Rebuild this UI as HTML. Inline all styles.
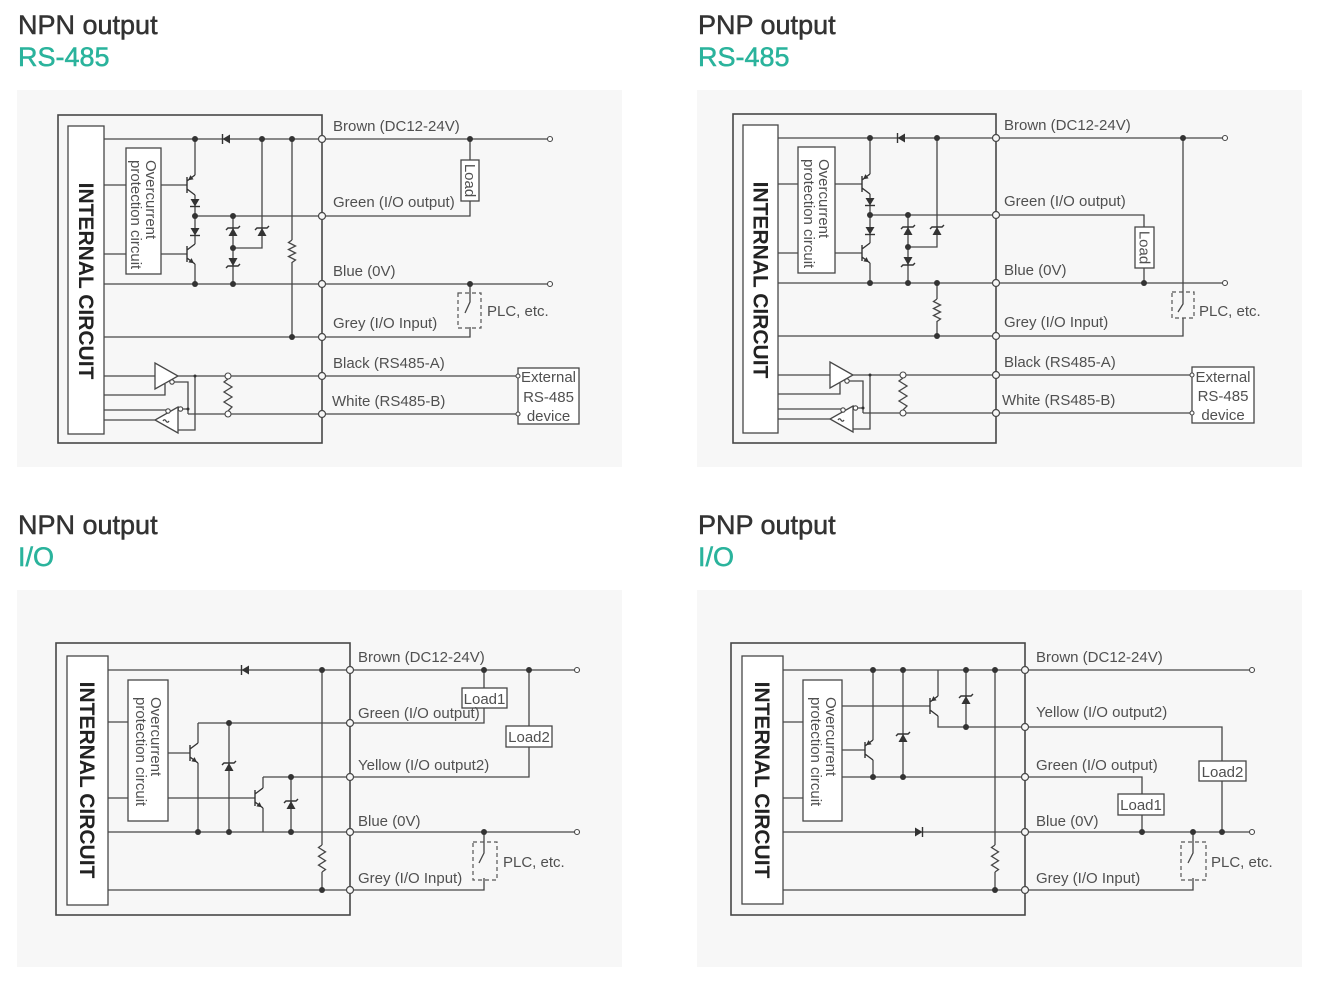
<!DOCTYPE html>
<html><head><meta charset="utf-8">
<style>
html,body{margin:0;padding:0;background:#fff;}
body{width:1318px;height:982px;overflow:hidden;}
svg{display:block;}
svg text{font-family:"Liberation Sans",Arial,sans-serif;}
.w{stroke:#474747;stroke-width:1.3;fill:none;}
.bx{fill:#fff;stroke:#474747;stroke-width:1.3;}
.ob{fill:none;stroke:#474747;stroke-width:1.6;}
.tm{fill:#f7f7f7;stroke:#474747;stroke-width:1.2;}
.ec{fill:#fff;stroke:#474747;stroke-width:1.1;}
.dt{fill:#333;}
.sym{fill:#333;stroke:none;}
.bar{stroke:#333;stroke-width:1.4;fill:none;}
.lb{font-size:15px;fill:#505050;}
.h1{font-size:27px;fill:#333;stroke:#333;stroke-width:0.5;}
.h2{font-size:27px;fill:#2ab39c;stroke:#2ab39c;stroke-width:0.5;}
.ic{font-size:21px;font-weight:bold;fill:#222;}
.oc{font-size:15px;fill:#505050;}
.dash{fill:none;stroke:#555;stroke-width:1.2;stroke-dasharray:4,3;}
</style></head>
<body>
<svg width="1318" height="982" viewBox="0 0 1318 982" xmlns="http://www.w3.org/2000/svg">

<!-- Headings -->
<text class="h1" x="18" y="34">NPN output</text>
<text class="h2" x="18" y="66">RS-485</text>
<text class="h1" x="698" y="34">PNP output</text>
<text class="h2" x="698" y="66">RS-485</text>
<text class="h1" x="18" y="534">NPN output</text>
<text class="h2" x="18" y="566">I/O</text>
<text class="h1" x="698" y="534">PNP output</text>
<text class="h2" x="698" y="566">I/O</text>

<!-- Panel backgrounds -->
<rect x="17" y="90" width="605" height="377" fill="#f7f7f7"/>
<rect x="697" y="90" width="605" height="377" fill="#f7f7f7"/>
<rect x="17" y="590" width="605" height="377" fill="#f7f7f7"/>
<rect x="697" y="590" width="605" height="377" fill="#f7f7f7"/>

<!-- ================= PANEL 1 : NPN RS-485 ================= -->
<g>
<rect class="ob" x="58" y="115" width="264" height="328"/>
<rect class="bx" x="68" y="126" width="36" height="308"/>
<text class="ic" transform="translate(79,281) rotate(90)" text-anchor="middle">INTERNAL CIRCUIT</text>
<rect class="bx" x="126" y="148" width="35" height="126"/>
<text class="oc" transform="translate(146,160) rotate(90)">Overcurrent</text>
<text class="oc" transform="translate(131,160) rotate(90)">protection circuit</text>

<path class="w" d="M104,139 H322 M104,185 H126 M161,185 H187 M104,254 H126 M161,254 H187
M195,139 V175 M195,195 V244 M195,264 V284 M195,216 H322 M233,216 V284 M233,248 H262 V139
M104,284 H322 M104,337 H322 M292,139 V240 M292,262 V337
M104,376 H155 M104,395 H165 V384 M174,382 H188 V414 M183,409 H188 M188,414 H322
M178,376 H322 M195,376 V430 H178 M155,420 H104 M104,410 H166
M228,376 V379 M228,411 V414"/>
<g transform="translate(187,185)"><path class="bar" d="M0,-8 V8 M0,-4 L8,-10 M0,4 L8,10"/><polygon class="sym" points="1,-4.75 6.56,-5.67 3.44,-9.83"/></g>
<g transform="translate(187,254)"><path class="bar" d="M0,-8 V8 M0,-4 L8,-10 M0,4 L8,10"/><polygon class="sym" points="7,9.25 1.44,8.33 4.56,4.17"/></g>
<g transform="translate(226,139) rotate(90)"><polygon class="sym" points="-4.5,-4 4.5,-4 0,3.5"/><path class="bar" d="M-5,3.5 H5"/></g>
<g transform="translate(195,203)"><polygon class="sym" points="-4.5,-4 4.5,-4 0,3.5"/><path class="bar" d="M-5,3.5 H5"/></g>
<g transform="translate(195,232)"><polygon class="sym" points="-4.5,-4 4.5,-4 0,3.5"/><path class="bar" d="M-5,3.5 H5"/></g>
<g transform="translate(233,232)"><polygon class="sym" points="-4.5,4 4.5,4 0,-4"/><path class="bar" d="M-7,-2 L-5,-4 H5 L7,-6"/></g>
<g transform="translate(233,262) rotate(180)"><polygon class="sym" points="-4.5,4 4.5,4 0,-4"/><path class="bar" d="M-7,-2 L-5,-4 H5 L7,-6"/></g>
<g transform="translate(262,232)"><polygon class="sym" points="-4.5,4 4.5,4 0,-4"/><path class="bar" d="M-7,-2 L-5,-4 H5 L7,-6"/></g>
<path class="w" d="M292,240 l-3.5,2.5 l7,3.5 l-7,3.5 l7,3.5 l-7,3.5 l7,3.5 l-3.5,2.5"/>
<polygon class="bx" points="155,363 155,389 178,376"/>
<polygon class="bx" points="178,407 178,433 155,420"/>
<path class="w" d="M163,421 q1.5,-2.5 3,0 t3,0" stroke-width="1"/>
<circle class="ec" cx="172" cy="382" r="2.2"/>
<circle class="ec" cx="168" cy="411" r="2.2"/>
<circle class="ec" cx="180.5" cy="409" r="2.2"/>
<circle class="dt" cx="195" cy="376" r="1.5"/>
<circle class="dt" cx="188" cy="409" r="1.5"/>
<path class="w" d="M228,379 l-4,3 l8,5 l-8,5 l8,5 l-8,5 l8,5 l-4,4"/>
<circle class="ec" cx="228" cy="376" r="3"/>
<circle class="ec" cx="228" cy="414" r="3"/>
<path class="w" d="M322,139 H550 M470,139 V160 M322,216 H470 V201 M322,284 H550 M322,337 H470 V327
M470,284 V302 L465,313 M322,376 H518 M322,414 H518"/>
<rect class="bx" x="461" y="160" width="18" height="41"/>
<text class="oc" font-size="14" transform="translate(465,180.5) rotate(90)" text-anchor="middle">Load</text>
<rect class="dash" x="458" y="293" width="23" height="35"/>
<rect class="bx" x="518" y="368" width="61" height="56"/>
<text class="lb" x="548.5" y="382" text-anchor="middle">External</text>
<text class="lb" x="548.5" y="402" text-anchor="middle">RS-485</text>
<text class="lb" x="548.5" y="421" text-anchor="middle">device</text>
<g class="dt"><circle cx="195" cy="139" r="3"/><circle cx="262" cy="139" r="3"/><circle cx="292" cy="139" r="3"/><circle cx="470" cy="139" r="3"/><circle cx="195" cy="216" r="3"/><circle cx="233" cy="216" r="3"/><circle cx="233" cy="248" r="3"/><circle cx="195" cy="284" r="3"/><circle cx="233" cy="284" r="3"/><circle cx="470" cy="284" r="3"/><circle cx="292" cy="337" r="3"/></g>
<g class="tm"><circle cx="322" cy="139" r="3.5"/><circle cx="322" cy="216" r="3.5"/><circle cx="322" cy="284" r="3.5"/><circle cx="322" cy="337" r="3.5"/><circle cx="322" cy="376" r="3.5"/><circle cx="322" cy="414" r="3.5"/></g>
<g class="ec"><circle cx="550" cy="139" r="2.5"/><circle cx="550" cy="284" r="2.5"/><circle cx="518" cy="376" r="2"/><circle cx="518" cy="414" r="2"/></g>
<text class="lb" x="333" y="131">Brown (DC12-24V)</text>
<text class="lb" x="333" y="207">Green (I/O output)</text>
<text class="lb" x="333" y="276">Blue (0V)</text>
<text class="lb" x="333" y="328">Grey (I/O Input)</text>
<text class="lb" x="333" y="368">Black (RS485-A)</text>
<text class="lb" x="332" y="406">White (RS485-B)</text>
<text class="lb" x="487" y="316">PLC, etc.</text>
</g>

<!-- ================= PANEL 2 : PNP RS-485 ================= -->
<g transform="translate(675,-1)">
<rect class="ob" x="58" y="115" width="263" height="329"/>
<rect class="bx" x="68" y="126" width="35" height="308"/>
<text class="ic" transform="translate(78.5,281) rotate(90)" text-anchor="middle">INTERNAL CIRCUIT</text>
<rect class="bx" x="123" y="148" width="37" height="126"/>
<text class="oc" transform="translate(144,160) rotate(90)">Overcurrent</text>
<text class="oc" transform="translate(129,160) rotate(90)">protection circuit</text>

<path class="w" d="M103,139 H321 M103,185 H123 M160,185 H187 M103,254 H123 M160,254 H187
M195,139 V175 M195,195 V244 M195,264 V284 M195,216 H321 M233,216 V284 M233,248 H262 V139
M103,284 H321 M103,337 H321 M262,284 V300 M262,322 V337
M103,376 H155 M103,395 H165 V384 M174,382 H188 V414 M183,409 H188 M188,414 H321
M178,376 H321 M195,376 V430 H178 M155,420 H103 M103,410 H166
M228,376 V379 M228,411 V414"/>
<g transform="translate(187,185)"><path class="bar" d="M0,-8 V8 M0,-4 L8,-10 M0,4 L8,10"/><polygon class="sym" points="1,-4.75 6.56,-5.67 3.44,-9.83"/></g>
<g transform="translate(187,254)"><path class="bar" d="M0,-8 V8 M0,-4 L8,-10 M0,4 L8,10"/><polygon class="sym" points="7,9.25 1.44,8.33 4.56,4.17"/></g>
<g transform="translate(226,139) rotate(90)"><polygon class="sym" points="-4.5,-4 4.5,-4 0,3.5"/><path class="bar" d="M-5,3.5 H5"/></g>
<g transform="translate(195,203)"><polygon class="sym" points="-4.5,-4 4.5,-4 0,3.5"/><path class="bar" d="M-5,3.5 H5"/></g>
<g transform="translate(195,232)"><polygon class="sym" points="-4.5,-4 4.5,-4 0,3.5"/><path class="bar" d="M-5,3.5 H5"/></g>
<g transform="translate(233,232)"><polygon class="sym" points="-4.5,4 4.5,4 0,-4"/><path class="bar" d="M-7,-2 L-5,-4 H5 L7,-6"/></g>
<g transform="translate(233,262) rotate(180)"><polygon class="sym" points="-4.5,4 4.5,4 0,-4"/><path class="bar" d="M-7,-2 L-5,-4 H5 L7,-6"/></g>
<g transform="translate(262,232)"><polygon class="sym" points="-4.5,4 4.5,4 0,-4"/><path class="bar" d="M-7,-2 L-5,-4 H5 L7,-6"/></g>
<path class="w" d="M262,300 l-3.5,2.5 l7,3.5 l-7,3.5 l7,3.5 l-7,3.5 l7,3.5 l-3.5,2.5"/>
<polygon class="bx" points="155,363 155,389 178,376"/>
<polygon class="bx" points="178,407 178,433 155,420"/>
<path class="w" d="M163,421 q1.5,-2.5 3,0 t3,0" stroke-width="1"/>
<circle class="ec" cx="172" cy="382" r="2.2"/>
<circle class="ec" cx="168" cy="411" r="2.2"/>
<circle class="ec" cx="180.5" cy="409" r="2.2"/>
<circle class="dt" cx="195" cy="376" r="1.5"/>
<circle class="dt" cx="188" cy="409" r="1.5"/>
<path class="w" d="M228,379 l-4,3 l8,5 l-8,5 l8,5 l-8,5 l8,5 l-4,4"/>
<circle class="ec" cx="228" cy="376" r="3"/>
<circle class="ec" cx="228" cy="414" r="3"/>
<g class="dt"><circle cx="195" cy="139" r="3"/><circle cx="262" cy="139" r="3"/><circle cx="195" cy="216" r="3"/><circle cx="233" cy="216" r="3"/><circle cx="233" cy="248" r="3"/><circle cx="195" cy="284" r="3"/><circle cx="233" cy="284" r="3"/><circle cx="262" cy="284" r="3"/><circle cx="262" cy="337" r="3"/></g>
<g class="tm"><circle cx="321" cy="139" r="3.5"/><circle cx="321" cy="216" r="3.5"/><circle cx="321" cy="284" r="3.5"/><circle cx="321" cy="337" r="3.5"/><circle cx="321" cy="376" r="3.5"/><circle cx="321" cy="414" r="3.5"/></g>
</g>
<path class="w" d="M999,138 H1225 M1183,138 V304 L1178,312 M1183,318 V336 H999
M999,215 H1144 V227 M1144,268 V283 M999,283 H1225 M999,375 H1192 M999,413 H1192"/>
<rect class="bx" x="1135" y="227" width="19" height="41"/>
<text class="oc" font-size="14" transform="translate(1139.5,247.5) rotate(90)" text-anchor="middle">Load</text>
<rect class="dash" x="1172" y="292" width="22" height="26"/>
<rect class="bx" x="1192" y="367" width="62" height="56"/>
<text class="lb" x="1223" y="382" text-anchor="middle">External</text>
<text class="lb" x="1223" y="401" text-anchor="middle">RS-485</text>
<text class="lb" x="1223" y="420" text-anchor="middle">device</text>
<g class="dt"><circle cx="1183" cy="138" r="3"/><circle cx="1144" cy="283" r="3"/></g>
<g class="ec"><circle cx="1225" cy="138" r="2.5"/><circle cx="1225" cy="283" r="2.5"/><circle cx="1192" cy="375" r="2"/><circle cx="1192" cy="413" r="2"/></g>
<text class="lb" x="1004" y="130">Brown (DC12-24V)</text>
<text class="lb" x="1004" y="206">Green (I/O output)</text>
<text class="lb" x="1004" y="275">Blue (0V)</text>
<text class="lb" x="1004" y="327">Grey (I/O Input)</text>
<text class="lb" x="1004" y="367">Black (RS485-A)</text>
<text class="lb" x="1002" y="405">White (RS485-B)</text>
<text class="lb" x="1199" y="316">PLC, etc.</text>

<!-- ================= PANEL 3 : NPN I/O ================= -->
<g>
<rect class="ob" x="56" y="643" width="294" height="272"/>
<rect class="bx" x="67" y="656" width="41" height="249"/>
<text class="ic" transform="translate(80,780) rotate(90)" text-anchor="middle">INTERNAL CIRCUIT</text>
<rect class="bx" x="128" y="680" width="40" height="141"/>
<text class="oc" transform="translate(151,697) rotate(90)">Overcurrent</text>
<text class="oc" transform="translate(136,697) rotate(90)">protection circuit</text>
<path class="w" d="M108,670 H577 M108,722 H128 M108,798 H128 M168,753 H190 M168,798 H255
M198,723 H484 V708 M484,670 V688 M198,723 V743 M198,763 V832 M229,723 V832
M263,777 H529 V747 M529,670 V726 M263,777 V788 M263,808 V832 M291,777 V832
M108,832 H577 M322,670 V845 M322,872 V890 M108,890 H484 V878 M484,832 V853 L479,863"/>
<g transform="translate(190,753)"><path class="bar" d="M0,-8 V8 M0,-4 L8,-10 M0,4 L8,10"/><polygon class="sym" points="7,9.25 1.44,8.33 4.56,4.17"/></g>
<g transform="translate(255,798)"><path class="bar" d="M0,-8 V8 M0,-4 L8,-10 M0,4 L8,10"/><polygon class="sym" points="7,9.25 1.44,8.33 4.56,4.17"/></g>
<g transform="translate(245,670) rotate(90)"><polygon class="sym" points="-4.5,-4 4.5,-4 0,3.5"/><path class="bar" d="M-5,3.5 H5"/></g>
<g transform="translate(229,767)"><polygon class="sym" points="-4.5,4 4.5,4 0,-4"/><path class="bar" d="M-7,-2 L-5,-4 H5 L7,-6"/></g>
<g transform="translate(291,805)"><polygon class="sym" points="-4.5,4 4.5,4 0,-4"/><path class="bar" d="M-7,-2 L-5,-4 H5 L7,-6"/></g>
<path class="w" d="M322,845 l-3.5,2.5 l7,4.4 l-7,4.4 l7,4.4 l-7,4.4 l7,4.4 l-3.5,2.5"/>
<rect class="bx" x="462" y="688" width="45" height="20"/>
<text class="lb" x="484.5" y="704" text-anchor="middle">Load1</text>
<rect class="bx" x="506" y="726" width="46" height="21"/>
<text class="lb" x="529" y="742" text-anchor="middle">Load2</text>
<rect class="dash" x="473" y="842" width="24" height="38"/>
<g class="dt"><circle cx="322" cy="670" r="3"/><circle cx="484" cy="670" r="3"/><circle cx="529" cy="670" r="3"/><circle cx="229" cy="723" r="3"/><circle cx="291" cy="777" r="3"/><circle cx="198" cy="832" r="3"/><circle cx="229" cy="832" r="3"/><circle cx="291" cy="832" r="3"/><circle cx="484" cy="832" r="3"/><circle cx="322" cy="890" r="3"/></g>
<g class="tm"><circle cx="350" cy="670" r="3.5"/><circle cx="350" cy="723" r="3.5"/><circle cx="350" cy="777" r="3.5"/><circle cx="350" cy="832" r="3.5"/><circle cx="350" cy="890" r="3.5"/></g>
<g class="ec"><circle cx="577" cy="670" r="2.5"/><circle cx="577" cy="832" r="2.5"/></g>
<text class="lb" x="358" y="662">Brown (DC12-24V)</text>
<text class="lb" x="358" y="718">Green (I/O output)</text>
<text class="lb" x="358" y="770">Yellow (I/O output2)</text>
<text class="lb" x="358" y="826">Blue (0V)</text>
<text class="lb" x="358" y="883">Grey (I/O Input)</text>
<text class="lb" x="503" y="867">PLC, etc.</text>
</g>

<!-- ================= PANEL 4 : PNP I/O ================= -->
<g>
<rect class="ob" x="731" y="643" width="294" height="272"/>
<rect class="bx" x="742" y="656" width="41" height="248"/>
<text class="ic" transform="translate(755,780) rotate(90)" text-anchor="middle">INTERNAL CIRCUIT</text>
<rect class="bx" x="803" y="680" width="39" height="141"/>
<text class="oc" transform="translate(826,697) rotate(90)">Overcurrent</text>
<text class="oc" transform="translate(811,697) rotate(90)">protection circuit</text>
<path class="w" d="M783,670 H1252 M783,722 H803 M783,798 H803 M842,706 H930 M842,750 H865
M938,670 V696 M938,716 V727 H1222 V761 M873,670 V740 M873,760 V777
M842,777 H1142 V794 M903,670 V777 M966,670 V727
M783,832 H1252 M995,670 V845 M995,872 V890 M783,890 H1193 V878 M1193,832 V853 L1188,863
M1142,815 V832 M1222,781 V832"/>
<g transform="translate(930,706)"><path class="bar" d="M0,-8 V8 M0,-4 L8,-10 M0,4 L8,10"/><polygon class="sym" points="1,-4.75 6.56,-5.67 3.44,-9.83"/></g>
<g transform="translate(865,750)"><path class="bar" d="M0,-8 V8 M0,-4 L8,-10 M0,4 L8,10"/><polygon class="sym" points="1,-4.75 6.56,-5.67 3.44,-9.83"/></g>
<g transform="translate(919,832) rotate(-90)"><polygon class="sym" points="-4.5,-4 4.5,-4 0,3.5"/><path class="bar" d="M-5,3.5 H5"/></g>
<g transform="translate(903,738)"><polygon class="sym" points="-4.5,4 4.5,4 0,-4"/><path class="bar" d="M-7,-2 L-5,-4 H5 L7,-6"/></g>
<g transform="translate(966,700)"><polygon class="sym" points="-4.5,4 4.5,4 0,-4"/><path class="bar" d="M-7,-2 L-5,-4 H5 L7,-6"/></g>
<path class="w" d="M995,845 l-3.5,2.5 l7,4.4 l-7,4.4 l7,4.4 l-7,4.4 l7,4.4 l-3.5,2.5"/>
<rect class="bx" x="1118" y="794" width="46" height="21"/>
<text class="lb" x="1141" y="810" text-anchor="middle">Load1</text>
<rect class="bx" x="1199" y="761" width="47" height="20"/>
<text class="lb" x="1222.5" y="777" text-anchor="middle">Load2</text>
<rect class="dash" x="1181" y="842" width="25" height="38"/>
<g class="dt"><circle cx="873" cy="670" r="3"/><circle cx="903" cy="670" r="3"/><circle cx="966" cy="670" r="3"/><circle cx="995" cy="670" r="3"/><circle cx="966" cy="727" r="3"/><circle cx="873" cy="777" r="3"/><circle cx="903" cy="777" r="3"/><circle cx="1142" cy="832" r="3"/><circle cx="1193" cy="832" r="3"/><circle cx="1222" cy="832" r="3"/><circle cx="995" cy="890" r="3"/></g>
<g class="tm"><circle cx="1025" cy="670" r="3.5"/><circle cx="1025" cy="727" r="3.5"/><circle cx="1025" cy="777" r="3.5"/><circle cx="1025" cy="832" r="3.5"/><circle cx="1025" cy="890" r="3.5"/></g>
<g class="ec"><circle cx="1252" cy="670" r="2.5"/><circle cx="1252" cy="832" r="2.5"/></g>
<text class="lb" x="1036" y="662">Brown (DC12-24V)</text>
<text class="lb" x="1036" y="717">Yellow (I/O output2)</text>
<text class="lb" x="1036" y="770">Green (I/O output)</text>
<text class="lb" x="1036" y="826">Blue (0V)</text>
<text class="lb" x="1036" y="883">Grey (I/O Input)</text>
<text class="lb" x="1211" y="867">PLC, etc.</text>
</g>

</svg>
</body></html>
